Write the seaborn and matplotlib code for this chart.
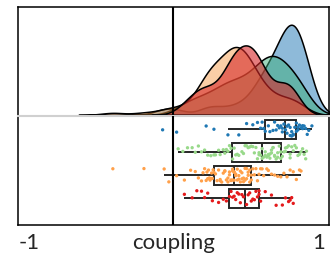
import numpy as np
import pandas as pd
import matplotlib
matplotlib.use("Agg")
import matplotlib.pyplot as plt
import seaborn as sns

# groups, top to bottom in the box panel
groups = ["g1", "g2", "g3", "g4"]

g1_vals = [-0.07, 0.02, 0.21, 0.26, 0.35, 0.42, 0.47, 0.51, 0.54, 0.56, 0.57, 0.58,
           0.59, 0.61, 0.62, 0.64, 0.65, 0.66, 0.67, 0.68, 0.69, 0.70, 0.70, 0.71,
           0.72, 0.73, 0.73, 0.74, 0.75, 0.75, 0.76, 0.76, 0.77, 0.77, 0.78, 0.79,
           0.79, 0.80, 0.80, 0.81, 0.82, 0.83, 0.83, 0.84, 0.85, 0.86, 0.87, 0.89]

g2_vals = [0.03, 0.06, 0.09, 0.12, 0.14, 0.16, 0.18, 0.20, 0.22, 0.24, 0.26, 0.27, 0.29, 0.30,
           0.32, 0.33, 0.34, 0.35, 0.36, 0.37,
           0.38, 0.39, 0.40, 0.41, 0.42, 0.44, 0.45, 0.46, 0.47, 0.48, 0.49, 0.50, 0.51, 0.52,
           0.53, 0.54, 0.55, 0.55, 0.56, 0.57,
           0.57, 0.58, 0.59, 0.59, 0.60, 0.61, 0.61, 0.62, 0.62, 0.63, 0.63, 0.64, 0.64, 0.65,
           0.65, 0.66, 0.67, 0.67, 0.68, 0.69,
           0.69, 0.70, 0.71, 0.72, 0.72, 0.73, 0.74, 0.75, 0.75, 0.76, 0.77, 0.78, 0.79, 0.80,
           0.81, 0.82, 0.83, 0.84, 0.85, 0.855]

g3_vals = [-0.39, -0.19, -0.06, -0.03, 0.02, 0.07, 0.11, 0.14, 0.16, 0.18, 0.19, 0.20, 0.21,
           0.215, 0.22, 0.225, 0.23, 0.235, 0.24, 0.245, 0.25, 0.255,
           0.26, 0.27, 0.28, 0.29, 0.30, 0.30, 0.31, 0.32, 0.33, 0.33, 0.34, 0.35, 0.35, 0.36,
           0.36, 0.37, 0.37, 0.38, 0.38, 0.38, 0.39, 0.39,
           0.39, 0.40, 0.40, 0.41, 0.41, 0.42, 0.42, 0.43, 0.43, 0.44, 0.44, 0.45, 0.45, 0.46,
           0.46, 0.47, 0.47, 0.48, 0.48, 0.49, 0.49, 0.50,
           0.50, 0.51, 0.52, 0.53, 0.54, 0.55, 0.56, 0.57, 0.58, 0.60, 0.61, 0.63, 0.65, 0.67,
           0.69, 0.71, 0.73, 0.75, 0.77, 0.79, 0.81, 0.82]

g4_vals = [0.07, 0.12, 0.15, 0.18, 0.20, 0.22, 0.25, 0.29, 0.32, 0.34,
           0.36, 0.37, 0.38, 0.39, 0.40, 0.41, 0.42, 0.43, 0.44, 0.45,
           0.47, 0.48, 0.49, 0.50, 0.51, 0.52, 0.53, 0.54, 0.55, 0.55,
           0.56, 0.59, 0.63, 0.66, 0.70, 0.72, 0.74, 0.75, 0.76, 0.77]

kde_colors = ["#1f77b4", "#3cae7a", "#f59a45", "#d62728"]
kde_alpha = [0.5, 0.5, 0.48, 0.6]
kde_bw = [0.7, 0.9, 0.85, 0.8]
point_colors = ["#1f78b4", "#98d98a", "#ffa04a", "#e41a1c"]

all_vals = [g1_vals, g2_vals, g3_vals, g4_vals]
df = pd.concat([pd.DataFrame({"group": g, "coupling": v}) for g, v in zip(groups, all_vals)],
               ignore_index=True)

sns.set_style("white")
plt.rcParams["font.family"] = ["Lato", "DejaVu Sans"]
np.random.seed(3)

fig = plt.figure(figsize=(3.3, 2.56), dpi=100)
ax_top = fig.add_axes([0.0545, 0.547, 0.9425, 0.426])
ax_bot = fig.add_axes([0.0545, 0.121, 0.9425, 0.426])

# densities in the top panel
for g, c, a, bw in zip(groups, kde_colors, kde_alpha, kde_bw):
    sns.kdeplot(data=df[df["group"] == g], x="coupling", fill=True, color=c, alpha=a,
                bw_adjust=bw, edgecolor="black", linewidth=1.1, ax=ax_top)

ymax = ax_top.dataLim.y1
ax_top.set_xlim(-1, 1)
ax_top.set_ylim(-0.012 * ymax, ymax / 0.835)
ax_top.set_xlabel("")
ax_top.set_ylabel("")
ax_top.set_xticks([])
ax_top.set_yticks([0.284 * ymax / 0.835])
ax_top.set_yticklabels([])
ax_top.axvline(0, color="black", lw=1.5, zorder=5)

# boxes + points in the bottom panel
sns.boxplot(data=df, x="coupling", y="group", order=groups, width=0.82, showfliers=False,
            showcaps=False, color="white", linecolor="#262626", linewidth=1.4, ax=ax_bot)
sns.stripplot(data=df, x="coupling", y="group", hue="group", order=groups, hue_order=groups,
              palette=point_colors, jitter=0.32, size=2.4, linewidth=0, legend=False, ax=ax_bot)

ax_bot.set_xlim(-1, 1)
ax_bot.set_ylim(4.17, -0.57)
ax_bot.set_xlabel("")
ax_bot.set_ylabel("")
ax_bot.set_xticks([-0.6, -0.4, -0.2, 0, 0.2, 0.4, 0.6])
ax_bot.set_xticklabels([])
ax_bot.set_yticks([2.1, 3.4])
ax_bot.set_yticklabels([])
ax_bot.axvline(0, color="black", lw=1.5, zorder=5)

for ax in (ax_top, ax_bot):
    for s in ax.spines.values():
        s.set_color("black")
        s.set_linewidth(1.1)
    ax.tick_params(direction="in", length=3, width=0.8, color="#999999")
ax_top.spines["bottom"].set_visible(False)
ax_bot.spines["top"].set_color("#d0d0d0")
ax_bot.spines["top"].set_linewidth(1.5)

fig.text(0.055, 0.05, "-1", fontsize=16, ha="left", va="center")
fig.text(0.527, 0.05, "coupling", fontsize=16, ha="center", va="center")
fig.text(0.966, 0.05, "1", fontsize=16, ha="center", va="center")

fig.savefig("out.png", dpi=100)
